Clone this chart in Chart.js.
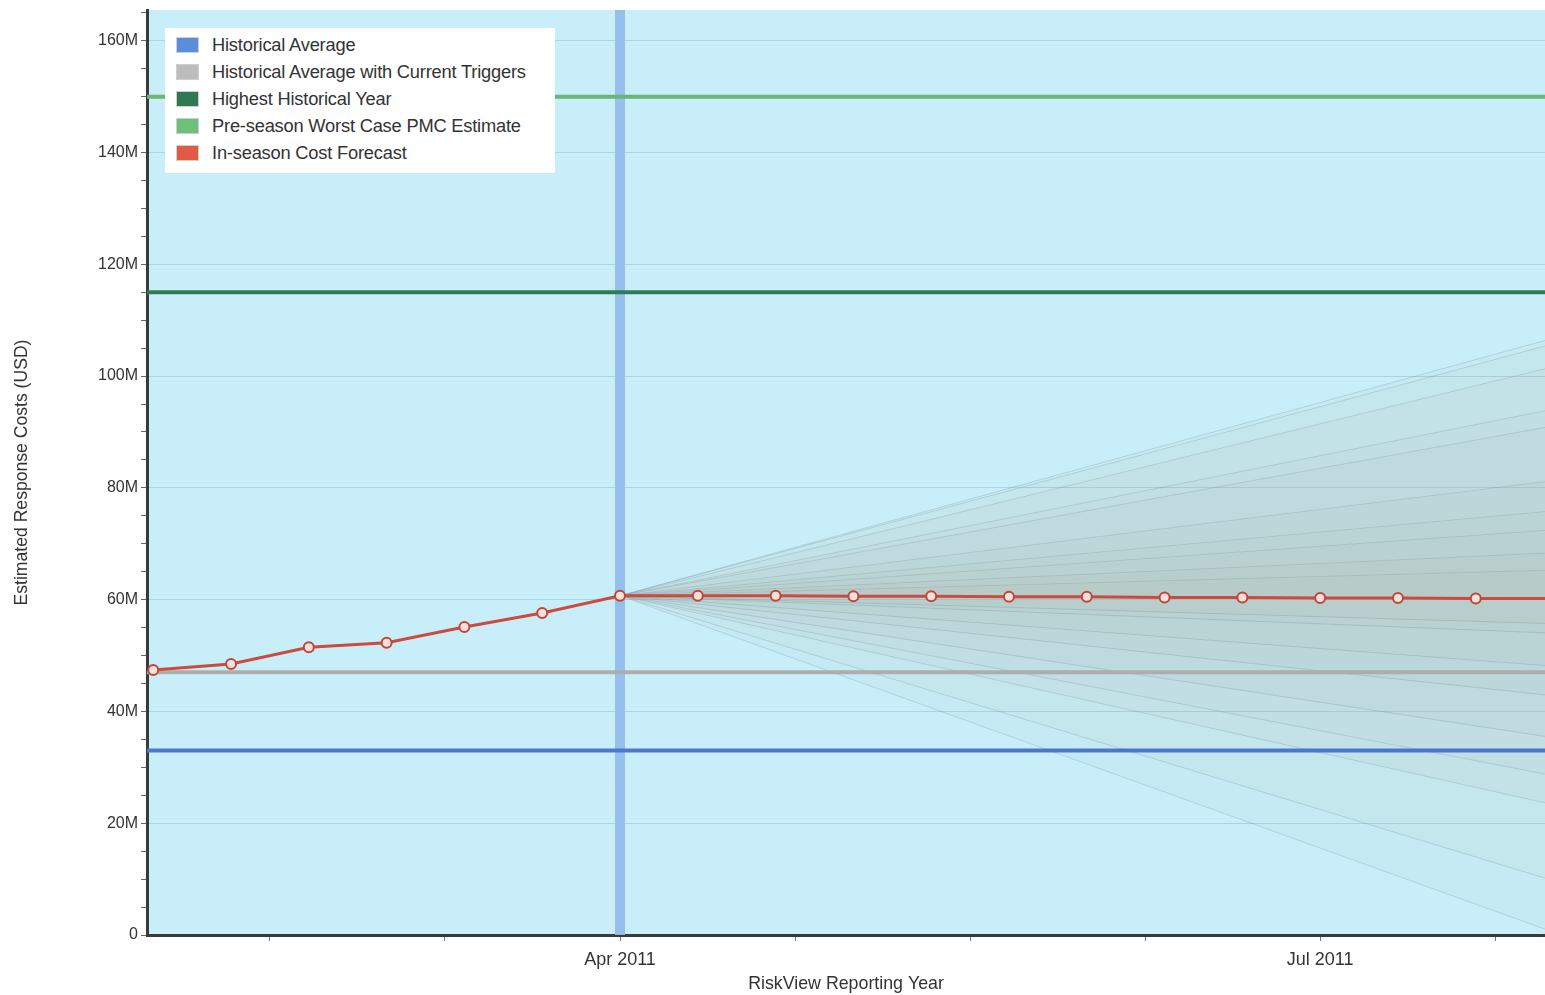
<!DOCTYPE html>
<html>
<head>
<meta charset="utf-8">
<script src="https://cdn.jsdelivr.net/npm/chart.js@4.4.0/dist/chart.umd.min.js"></script>
<style>
  body { margin: 0; background: #fff; overflow: hidden; }
  #wrap { position: relative; width: 1545px; height: 995px; }
  canvas { display: block; }
  #legend {
    position: absolute; left: 165px; top: 28px; width: 390px; height: 145px;
    background: #fff; font-family: 'Liberation Sans', Arial, sans-serif;
    font-size: 18.3px; color: #333;
  }
  .item { position: absolute; left: 11px; height: 16px; line-height: 16px; white-space: nowrap; }
  .swatch { position: absolute; left: 0; top: 0; width: 21px; height: 14px; border: 1px solid #cfcfcf; }
  .label { position: absolute; left: 36px; top: 0; letter-spacing: -0.2px; }
</style>
</head>
<body>
<div id="wrap">
  <canvas id="costChart" width="1545" height="995"></canvas>
  <div id="legend"></div>
</div>
<script>
// costs in millions of USD, one value per reporting step (roughly every 10 days)
const stepLabels = ['Feb 1', 'Feb 11', 'Feb 21', 'Mar 1', 'Mar 11', 'Mar 21', 'Apr 1', 'Apr 11', 'Apr 21',
    'May 1', 'May 11', 'May 21', 'Jun 1', 'Jun 11', 'Jun 21', 'Jul 1', 'Jul 11', 'Jul 21', 'Aug 1'];
const forecastCost = [47.4, 48.5, 51.5, 52.3, 55.1, 57.6, 60.7, 60.7, 60.7, 60.6, 60.6, 60.5,
    60.5, 60.4, 60.4, 60.3, 60.3, 60.2, 60.2];

const historicalAverage = 33;
const averageWithTriggers = 47;
const highestYear = 115;
const worstCasePMC = 150;

// forecast spread: lines start at the Apr 1 step and end at step 18
const fanStart = 6;
const fanEnd = 18;
const fanUpper = [106.8, 105.8, 101.7, 94.1, 91.1, 81.3, 75.9, 72.5, 68.4, 65.3];
const fanLower = [55.7, 54.0, 48.1, 42.8, 35.3, 28.5, 23.3, 9.7, 0.5];

const xTicks = [1.5, 3.75, 6, 8.25, 10.5, 12.75, 15, 17.25];
const xTickLabels = { 6: 'Apr 2011', 15: 'Jul 2011' };
const yTicks = [0, 5, 10, 15, 20, 25, 30, 35, 40, 45, 50, 55, 60, 65, 70, 75, 80,
    85, 90, 95, 100, 105, 110, 115, 120, 125, 130, 135, 140, 145, 150, 155, 160, 165];
const yLabelled = [0, 20, 40, 60, 80, 100, 120, 140, 160];
const currentStep = 6;

const M = 1000000;
const xMin = -0.08;
const xMax = 17.89;
const yMax = 165.5;
const fontFamily = "'Liberation Sans', Arial, sans-serif";

function flatLine(v) {
    return [{ x: -1, y: v * M }, { x: 19, y: v * M }];
}

function isLabelled(v) {
    return yLabelled.indexOf(Math.round(v / M)) !== -1 && Math.abs(v / M - Math.round(v / M)) < 1e-6;
}

const datasets = [
    { label: 'Historical Average', data: flatLine(historicalAverage), borderColor: '#4a78c8', legendColor: '#5b8ed8', borderWidth: 4, order: 2 },
    { label: 'Historical Average with Current Triggers', data: flatLine(averageWithTriggers), borderColor: '#acaead', legendColor: '#bcbcbc', borderWidth: 4, order: 2 },
    { label: 'Highest Historical Year', data: flatLine(highestYear), borderColor: '#2e7b55', legendColor: '#2f7a55', borderWidth: 4, order: 2 },
    { label: 'Pre-season Worst Case PMC Estimate', data: flatLine(worstCasePMC), borderColor: '#66b874', legendColor: '#6cc07a', borderWidth: 4, order: 2 },
    {
        label: 'In-season Cost Forecast',
        data: forecastCost.map((v, i) => ({ x: i, y: v * M })),
        borderColor: '#cc4a3e', legendColor: '#e05a45', borderWidth: 3, order: 0,
        pointRadius: 5, pointBorderWidth: 2, pointBackgroundColor: '#f6e0da', pointBorderColor: '#c0453a'
    },
    {
        label: 'current', data: [{ x: currentStep, y: -10 * M }, { x: currentStep, y: 200 * M }],
        borderColor: 'rgba(148,188,234,0.95)', borderWidth: 10, order: 5
    },
    {
        label: 'fan-centre', data: [{ x: fanStart, y: forecastCost[fanStart] * M }, { x: fanEnd, y: forecastCost[fanEnd] * M }],
        borderWidth: 0, borderColor: 'rgba(0,0,0,0)', order: 20
    }
];
const centreIndex = datasets.length - 1;

fanUpper.concat(fanLower).forEach(function (end) {
    datasets.push({
        label: 'fan',
        data: [{ x: fanStart, y: forecastCost[fanStart] * M }, { x: fanEnd, y: end * M }],
        borderColor: 'rgba(115,138,150,0.28)',
        borderWidth: 1,
        backgroundColor: 'rgba(170,172,160,0.06)',
        fill: centreIndex,
        order: 10
    });
});

datasets.forEach(function (ds) {
    if (ds.pointRadius === undefined) ds.pointRadius = 0;
    ds.tension = 0;
});

const plotBackground = {
    id: 'plotBackground',
    beforeDraw(chart) {
        const a = chart.chartArea;
        const ctx = chart.ctx;
        ctx.save();
        ctx.fillStyle = '#c8eff9';
        ctx.fillRect(a.left, a.top, a.right - a.left, a.bottom - a.top);
        ctx.restore();
    }
};

const ctx = document.getElementById('costChart').getContext('2d');
const costChart = new Chart(ctx, {
    type: 'line',
    data: { datasets: datasets },
    plugins: [plotBackground],
    options: {
        responsive: false,
        animation: false,
        layout: { autoPadding: false, padding: { top: 10, right: 0, left: 0, bottom: 0 } },
        plugins: {
            legend: { display: false },
            tooltip: { enabled: false }
        },
        scales: {
            x: {
                type: 'linear',
                min: xMin,
                max: xMax,
                afterFit(scale) {
                    scale.height = 60;
                    scale.paddingLeft = 0;
                    scale.paddingRight = 0;
                },
                afterBuildTicks(scale) { scale.ticks = xTicks.map(v => ({ value: v })); },
                border: { color: '#3a3a3a', width: 3 },
                grid: { drawOnChartArea: false, tickLength: 6, tickColor: '#777' },
                ticks: {
                    autoSkip: false, maxRotation: 0, padding: 8,
                    color: '#333', font: { family: fontFamily, size: 18 },
                    callback: v => xTickLabels[v] || ''
                },
                title: {
                    display: true, text: 'RiskView Reporting Year', color: '#333',
                    font: { family: fontFamily, size: 17.8 }, padding: { top: 0, bottom: 0 }
                }
            },
            y: {
                min: 0,
                max: yMax * M,
                afterFit(scale) {
                    scale.width = 147;
                    scale.paddingTop = 0;
                    scale.paddingBottom = 0;
                },
                afterBuildTicks(scale) { scale.ticks = yTicks.map(v => ({ value: v * M })); },
                border: { color: '#3a3a3a', width: 3 },
                grid: {
                    tickLength: 6,
                    tickColor: '#666',
                    color: c => (c.tick && c.tick.value > 0 && isLabelled(c.tick.value)) ? 'rgba(110,165,185,0.35)' : 'rgba(0,0,0,0)'
                },
                ticks: {
                    autoSkip: false, padding: 3,
                    color: '#333', font: { family: fontFamily, size: 16 },
                    callback: v => isLabelled(v) ? (Math.round(v / M) === 0 ? '0' : Math.round(v / M) + 'M') : ''
                },
                title: {
                    display: true, text: 'Estimated Response Costs (USD)', color: '#333',
                    font: { family: fontFamily, size: 17.6 }, padding: { top: 12, bottom: 0 }
                }
            }
        }
    }
});

// legend box drawn over the plot, top-left
const legendBox = document.getElementById('legend');
datasets.slice(0, 5).forEach(function (ds, i) {
    const item = document.createElement('div');
    item.className = 'item';
    item.style.top = (9 + 27 * i) + 'px';
    const swatch = document.createElement('span');
    swatch.className = 'swatch';
    swatch.style.background = ds.legendColor;
    const label = document.createElement('span');
    label.className = 'label';
    label.textContent = ds.label;
    item.appendChild(swatch);
    item.appendChild(label);
    legendBox.appendChild(item);
});
</script>
</body>
</html>
